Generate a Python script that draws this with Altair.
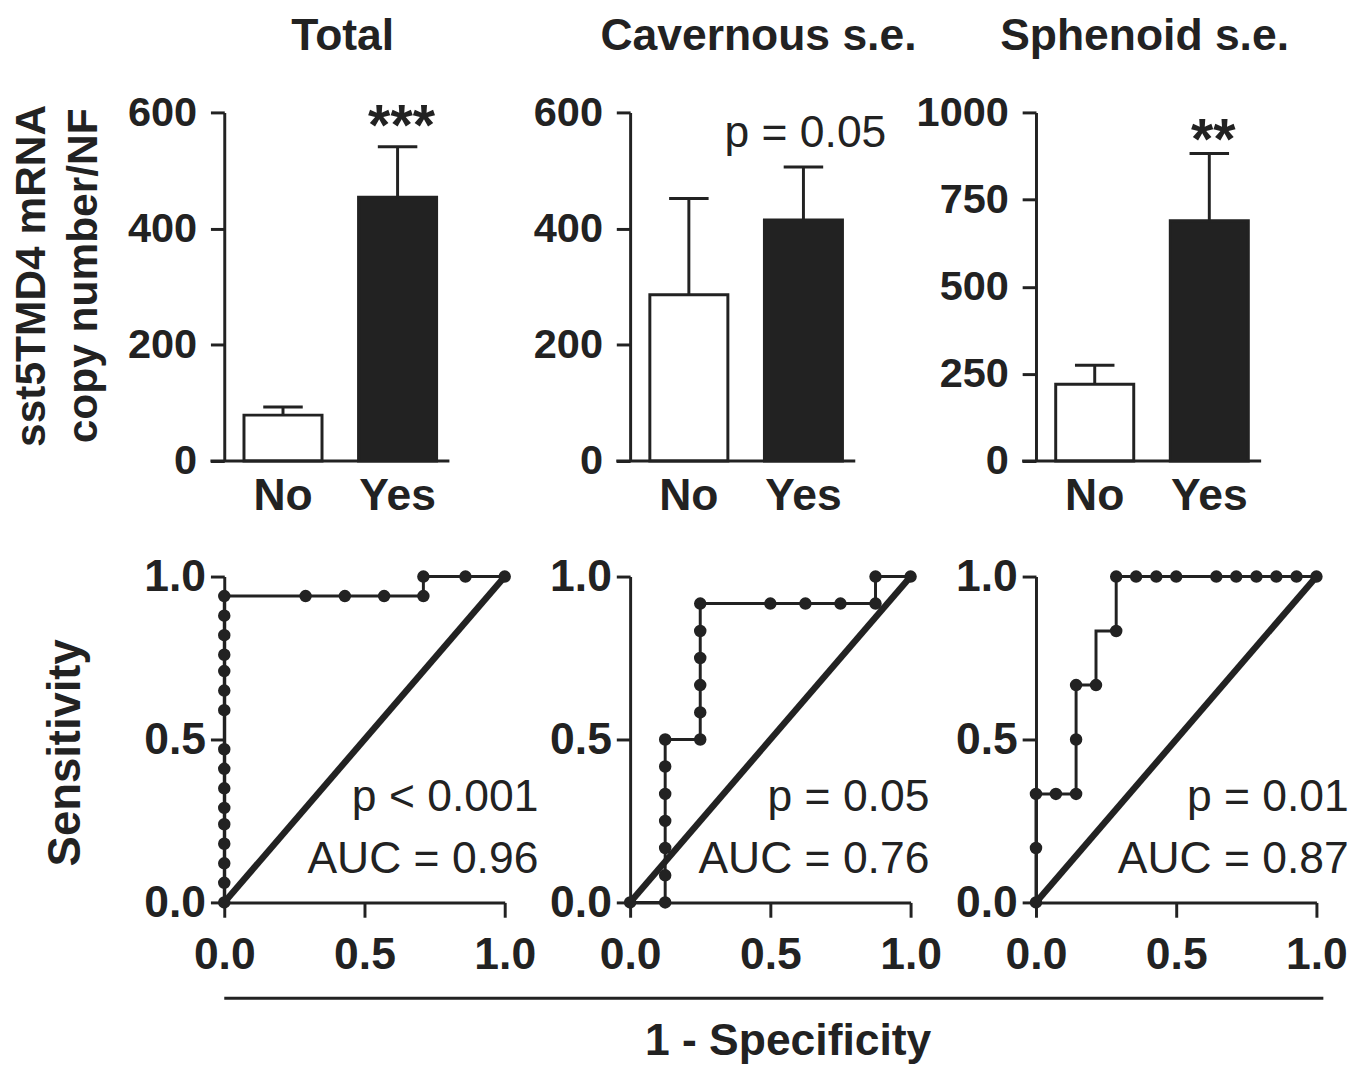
import altair as alt
import pandas as pd

FONT = "Liberation Sans"
INK = "#222222"

# ---------------- data ----------------
groups = ["No", "Yes"]
panel_titles = ["Total", "Cavernous s.e.", "Sphenoid s.e."]
bar_mean = [[79, 454], [286, 415], [220, 689]]
bar_err_top = [[93, 541], [452, 506], [275, 882]]
bar_ymax = [600, 600, 1000]
bar_ticks = [[0, 200, 400, 600], [0, 200, 400, 600], [0, 250, 500, 750, 1000]]
bar_note = ["***", "p = 0.05", "**"]
bar_note_y = [544, 540, 865]

roc_fpr = [
    [0, 0, 0, 0, 0, 0, 0, 0, 0, 0, 0, 0, 0, 0, 0, 0, 0.29, 0.43, 0.57, 0.71, 0.71, 0.86, 1.0],
    [0, 0.125, 0.125, 0.125, 0.125, 0.125, 0.125, 0.125, 0.25, 0.25, 0.25, 0.25, 0.25, 0.25,
     0.5, 0.625, 0.75, 0.875, 0.875, 1.0],
    [0, 0, 0, 0.071, 0.143, 0.143, 0.143, 0.214, 0.214, 0.286, 0.286, 0.357, 0.429, 0.5,
     0.643, 0.714, 0.786, 0.857, 0.929, 1.0],
]
roc_tpr = [
    [0, 0.06, 0.12, 0.18, 0.24, 0.29, 0.35, 0.41, 0.47, 0.59, 0.65, 0.71, 0.76, 0.82, 0.88,
     0.94, 0.94, 0.94, 0.94, 0.94, 1.0, 1.0, 1.0],
    [0, 0, 0.083, 0.167, 0.25, 0.333, 0.417, 0.5, 0.5, 0.583, 0.667, 0.75, 0.833, 0.917,
     0.917, 0.917, 0.917, 0.917, 1.0, 1.0],
    [0, 0.167, 0.333, 0.333, 0.333, 0.5, 0.667, 0.667, 0.833, 0.833, 1.0, 1.0, 1.0, 1.0,
     1.0, 1.0, 1.0, 1.0, 1.0, 1.0],
]
roc_dot = [
    [1] * 23,
    [1] * 20,
    [1, 1, 1, 1, 1, 1, 1, 1, 0, 1, 1, 1, 1, 1, 1, 1, 1, 1, 1, 1],
]
roc_p = ["p < 0.001", "p = 0.05", "p = 0.01"]
roc_auc = ["AUC = 0.96", "AUC = 0.76", "AUC = 0.87"]
roc_text_x = [1.12, 1.067, 1.115]
diag_x = [0, 1]
diag_y = [0, 1]
x_title = "1 - Specificity"

# ---------------- geometry / style ----------------
W_BAR, H_BAR = 228, 353
W_ROC, H_ROC = 284, 330
LBL = 45
YLBL = 42
title_dx = [6, 16, -4]
BAR_SCALE = dict(domain=groups, paddingInner=0.319, paddingOuter=0.142, align=0.606)


def bar_y(field, i):
    return alt.Y(
        field,
        scale=alt.Scale(domain=[0, bar_ymax[i]], nice=False),
        axis=alt.Axis(
            values=bar_ticks[i], format="d", grid=False, domainWidth=3, domainColor=INK,
            tickWidth=3, tickColor=INK, tickSize=14, labelPadding=14, labelFlush=False,
            labelFontSize=YLBL, labelFontWeight="bold", labelColor=INK, labelFont=FONT,
            title=["sst5TMD4 mRNA", "copy number/NF"] if i == 0 else None,
            titleFontSize=43, titleFontWeight="bold", titleColor=INK, titleFont=FONT,
            titleLineHeight=53, titlePadding=22, titleY=165,
        ),
    )


def bar_x():
    return alt.X(
        "group:N", sort=groups, scale=alt.Scale(**BAR_SCALE),
        axis=alt.Axis(title=None, labelAngle=0, ticks=False, domain=False,
                      labelFontSize=LBL, labelFontWeight="bold", labelColor=INK,
                      labelFont=FONT, labelPadding=13),
    )


def bar_panel(i):
    df = pd.DataFrame({"group": groups, "mean": bar_mean[i], "top": bar_err_top[i]})
    base = alt.Chart(df)
    bars = base.mark_bar(stroke=INK, strokeWidth=3).encode(
        x=bar_x(), y=bar_y("mean:Q", i),
        fill=alt.Fill("group:N", scale=alt.Scale(domain=groups, range=["#ffffff", INK]), legend=None),
    )
    err = base.mark_rule(strokeWidth=3, color=INK).encode(
        x=bar_x(), y=bar_y("mean:Q", i), y2="top:Q")
    cap = base.mark_tick(thickness=3, size=40, color=INK, opacity=1).encode(
        x=bar_x(), y=bar_y("top:Q", i))
    baseline = alt.Chart(pd.DataFrame({"z": [0]})).mark_rule(strokeWidth=3, color=INK).encode(
        x=alt.value(-14), x2=alt.value(W_BAR), y=bar_y("z:Q", i))
    bold = bar_note[i].startswith("*")
    note = alt.Chart(pd.DataFrame({"t": [bar_note[i]], "group": ["Yes"], "v": [bar_note_y[i]]})).mark_text(
        font=FONT, fontSize=58 if bold else 45, fontWeight="bold" if bold else "normal",
        color=INK, align="center", baseline="alphabetic", dx=4 if bold else 2,
    ).encode(x=bar_x(), y=bar_y("v:Q", i), text="t:N")
    return alt.layer(bars, err, cap, baseline, note).properties(
        width=W_BAR, height=H_BAR,
        title=alt.TitleParams(panel_titles[i], fontSize=LBL, fontWeight="bold", font=FONT,
                              color=INK, anchor="middle", frame="group", baseline="alphabetic",
                              offset=-3, dx=title_dx[i]),
    )


def roc_x():
    return alt.X("fpr:Q", scale=alt.Scale(domain=[0, 1], nice=False),
                 axis=alt.Axis(values=[0, 0.5, 1], format=".1f", title=None, grid=False,
                               domainWidth=3, domainColor=INK, tickWidth=3, tickColor=INK,
                               tickSize=15, labelPadding=16, labelFlush=False, labelFontSize=LBL,
                               labelFontWeight="bold", labelColor=INK, labelFont=FONT))


def roc_y(i):
    return alt.Y("tpr:Q", scale=alt.Scale(domain=[0, 1], nice=False),
                 axis=alt.Axis(values=[0, 0.5, 1], format=".1f", grid=False, labelFlush=False,
                               title="Sensitivity" if i == 0 else None,
                               titleFontSize=46, titleFontWeight="bold", titleColor=INK,
                               titleFont=FONT, titlePadding=55, titleY=178,
                               domainWidth=3, domainColor=INK, tickWidth=3, tickColor=INK,
                               tickSize=14, labelPadding=5, labelFontSize=LBL,
                               labelFontWeight="bold", labelColor=INK, labelFont=FONT))


def roc_panel(i):
    df = pd.DataFrame({"fpr": roc_fpr[i], "tpr": roc_tpr[i], "dot": roc_dot[i],
                       "idx": list(range(len(roc_fpr[i])))})
    base = alt.Chart(df)
    line = base.mark_line(strokeWidth=3, color=INK).encode(x=roc_x(), y=roc_y(i), order="idx:Q")
    pts = base.mark_circle(size=160, color=INK, opacity=1).encode(
        x=roc_x(), y=roc_y(i)).transform_filter("datum.dot == 1")
    diag = alt.Chart(pd.DataFrame({"fpr": diag_x, "tpr": diag_y})).mark_line(
        strokeWidth=6.5, color=INK).encode(x=roc_x(), y=roc_y(i))
    tdf = pd.DataFrame({"fpr": [roc_text_x[i], roc_text_x[i]], "tpr": [0.279, 0.091],
                        "t": [roc_p[i], roc_auc[i]]})
    txt = alt.Chart(tdf).mark_text(font=FONT, fontSize=45, color=INK, align="right",
                                   baseline="alphabetic").encode(x=roc_x(), y=roc_y(i), text="t:N")
    layers = [diag, line, pts, txt]
    if i == 0:
        # shared x-axis title with its long underline, placed beneath the ROC row
        rule = alt.Chart(pd.DataFrame({"z": [0]})).mark_rule(strokeWidth=3, color=INK).encode(
            x=alt.value(0), x2=alt.value(1113), y=alt.value(H_ROC + 97))
        ttl = alt.Chart(pd.DataFrame({"t": [x_title]})).mark_text(
            font=FONT, fontSize=LBL, fontWeight="bold", color=INK, align="center",
            baseline="alphabetic").encode(x=alt.value(571), y=alt.value(H_ROC + 155), text="t:N")
        layers += [rule, ttl]
    return alt.layer(*layers).properties(width=W_ROC, height=H_ROC)


panels = [bar_panel(i) for i in range(3)] + [roc_panel(i) for i in range(3)]
chart = alt.concat(*panels, columns=3, spacing={"row": 117, "column": 127}, bounds="flush").properties(
    padding={"left": 2, "top": 0, "right": 2, "bottom": 2}
).resolve_scale(x="independent", y="independent").configure(font=FONT).configure_view(
    strokeWidth=0, stroke="transparent")

chart.save("out.html", embed_options={"renderer": "svg", "actions": False})
